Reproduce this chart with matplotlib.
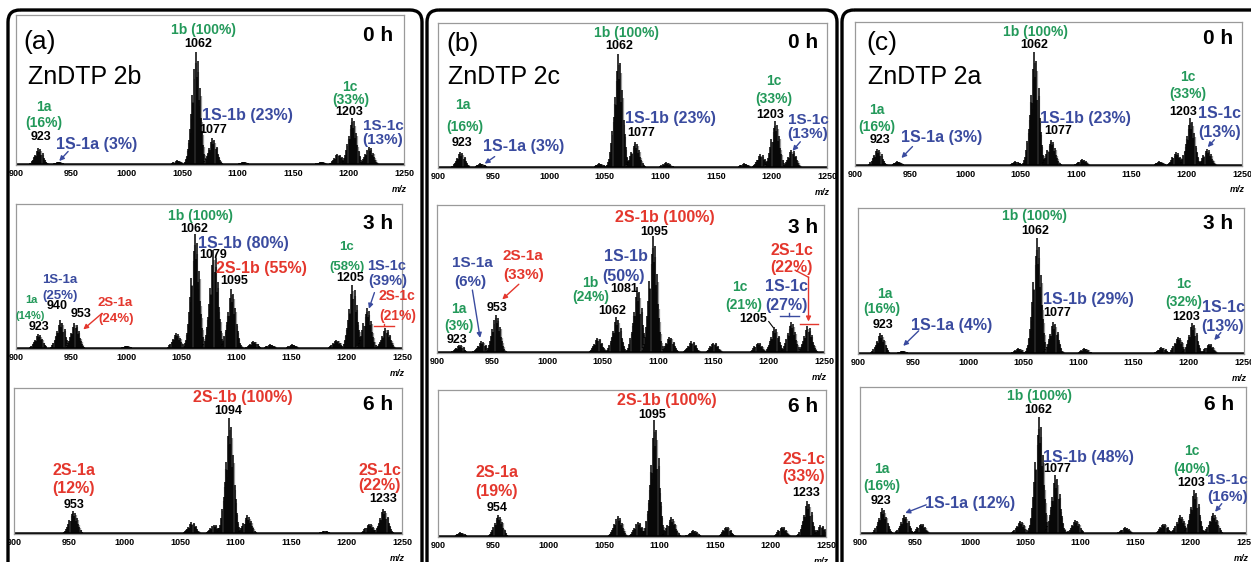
import matplotlib
matplotlib.use("Agg")
import matplotlib.pyplot as plt
from matplotlib.patches import FancyBboxPatch

plt.rcParams['font.family'] = ['Liberation Sans', 'DejaVu Sans']

# ---- data: peak clusters (m/z of cluster top, height relative to base peak) ----
a0_mz = [920, 938, 1045, 1062, 1077, 1105, 1175, 1190, 1203, 1218]
a0_int = [15, 3, 4, 100, 24, 3, 3, 10, 42, 16]
a3_mz = [920, 940, 953, 1000, 1045, 1062, 1079, 1095, 1115, 1130, 1150, 1190, 1205, 1218, 1235]
a3_int = [13, 25, 23, 3, 14, 100, 86, 52, 7, 4, 4, 8, 56, 36, 18]
a6_mz = [953, 1060, 1080, 1094, 1110, 1180, 1220, 1233]
a6_int = [20, 10, 8, 100, 16, 3, 9, 22]

b0_mz = [920, 938, 1045, 1062, 1077, 1105, 1175, 1190, 1203, 1218]
b0_int = [14, 4, 4, 100, 23, 5, 4, 12, 41, 16]
b3_mz = [920, 940, 953, 1045, 1062, 1081, 1095, 1110, 1130, 1150, 1190, 1205, 1220, 1235]
b3_int = [7, 10, 33, 13, 31, 57, 100, 14, 10, 9, 9, 22, 27, 23]
b6_mz = [920, 954, 1062, 1080, 1095, 1110, 1130, 1160, 1210, 1233, 1245]
b6_int = [4, 19, 18, 13, 100, 17, 6, 9, 9, 31, 10]

c0_mz = [920, 938, 1045, 1062, 1077, 1105, 1175, 1190, 1203, 1218]
c0_int = [15, 4, 4, 100, 23, 6, 4, 12, 42, 15]
c3_mz = [920, 940, 1045, 1062, 1077, 1105, 1175, 1190, 1203, 1218]
c3_int = [18, 3, 5, 100, 28, 5, 6, 15, 27, 9]
c6_mz = [920, 940, 955, 1045, 1062, 1077, 1095, 1140, 1175, 1190, 1203, 1220]
c6_int = [22, 16, 9, 11, 100, 51, 12, 6, 9, 16, 38, 18]

iso_off = [-10, -9, -8, -7, -6, -5, -4, -3, -2, -1, 0, 1, 2, 3, 4, 5, 6, 7, 8, 9, 10]
iso_rel = [0.03, 0.05, 0.08, 0.14, 0.22, 0.32, 0.45, 0.62, 0.55, 0.85, 1.0,
           0.78, 0.92, 0.58, 0.68, 0.42, 0.30, 0.18, 0.10, 0.06, 0.03]

xticks = [900, 950, 1000, 1050, 1100, 1150, 1200, 1250]
hours = ['0 h', '3 h', '6 h']

GREEN = '#23995a'
BLUE = '#3a4b9f'
RED = '#e4372d'
BLACK = 'k'

W, H = 1251, 562
fig = plt.figure(figsize=(W / 100, H / 100), dpi=100)

# outer rounded frames
bg = fig.add_axes([0, 0, 1, 1])
bg.set_xlim(0, W)
bg.set_ylim(H, 0)
bg.axis('off')
for x0, x1 in [(8, 422), (427, 837), (842, 1275)]:
    bg.add_patch(FancyBboxPatch((x0, 10), x1 - x0, 620,
                                boxstyle='round,pad=0,rounding_size=12',
                                fill=False, ec='k', lw=2.4, clip_on=False))

# panel boxes in pixels: left, top, right, bottom
boxes = {
    'a': [(16, 15, 404, 165), (16, 204, 402, 349), (14, 388, 402, 534)],
    'b': [(438, 23, 827, 168), (437, 205, 824, 353), (438, 390, 826, 537)],
    'c': [(855, 22, 1242, 166), (858, 208, 1244, 354), (860, 387, 1246, 534)],
}
ymax = {'a': [133, 126, 126], 'b': [127, 127, 126], 'c': [126, 126, 126]}
spectra = {
    'a': [(a0_mz, a0_int), (a3_mz, a3_int), (a6_mz, a6_int)],
    'b': [(b0_mz, b0_int), (b3_mz, b3_int), (b6_mz, b6_int)],
    'c': [(c0_mz, c0_int), (c3_mz, c3_int), (c6_mz, c6_int)],
}
hour_pos = {
    'a': [(1240, 115), (1242, 109), (1242, 112)],
    'b': [(1242, 110), (1245, 108), (1243, 112)],
    'c': [(1242, 112), (1240, 113), (1239, 111)],
}

# text labels: x, y, text, colour, size
labels = {
    ('a', 0): [
        (1069, 120, '1b (100%)', GREEN, 10), (1064, 107, '1062', BLACK, 9),
        (925, 51, '1a', GREEN, 10), (925, 37, '(16%)', GREEN, 10), (923, 25, '923', BLACK, 9),
        (973, 18, '1S-1a (3%)', BLUE, 11.5),
        (1109, 44, '1S-1b (23%)', BLUE, 11.5), (1078, 31, '1077', BLACK, 9),
        (1201, 69, '1c', GREEN, 10), (1202, 58, '(33%)', GREEN, 10), (1201, 47, '1203', BLACK, 9),
        (1231, 35, '1S-1c', BLUE, 11), (1231, 22, '(13%)', BLUE, 11),
    ],
    ('a', 1): [
        (1067, 116, '1b (100%)', GREEN, 10), (1062, 104, '1062', BLACK, 9),
        (1106, 92, '1S-1b (80%)', BLUE, 11.5), (1079, 82, '1079', BLACK, 9),
        (1123, 70, '2S-1b (55%)', RED, 11.5), (1098, 59, '1095', BLACK, 9),
        (940, 60, '1S-1a', BLUE, 9.5), (940, 46, '(25%)', BLUE, 9.5),
        (914, 43, '1a', GREEN, 8), (913, 29, '(14%)', GREEN, 8),
        (937, 37, '940', BLACK, 9), (959, 30, '953', BLACK, 9), (921, 19, '923', BLACK, 9),
        (990, 40, '2S-1a', RED, 9.5), (991, 26, '(24%)', RED, 9.5),
        (1200, 89, '1c', GREEN, 9.5), (1200, 71, '(58%)', GREEN, 9.5), (1203, 62, '1205', BLACK, 9),
        (1236, 72, '1S-1c', BLUE, 10.5), (1237, 59, '(39%)', BLUE, 10.5),
        (1245, 46, '2S-1c', RED, 10), (1246, 29, '(21%)', RED, 10),
    ],
    ('a', 2): [
        (1106, 118, '2S-1b (100%)', RED, 11.5), (1093, 106, '1094', BLACK, 9),
        (954, 55, '2S-1a', RED, 11.5), (954, 39, '(12%)', RED, 11.5), (954, 25, '953', BLACK, 9),
        (1230, 55, '2S-1c', RED, 11.5), (1230, 42, '(22%)', RED, 11.5), (1233, 30, '1233', BLACK, 9),
    ],
    ('b', 0): [
        (1070, 118, '1b (100%)', GREEN, 10), (1063, 107, '1062', BLACK, 9),
        (922, 55, '1a', GREEN, 10), (924, 36, '(16%)', GREEN, 10), (922, 22, '923', BLACK, 9),
        (977, 19, '1S-1a (3%)', BLUE, 11.5),
        (1109, 43, '1S-1b (23%)', BLUE, 11.5), (1083, 31, '1077', BLACK, 9),
        (1202, 76, '1c', GREEN, 10), (1202, 60, '(33%)', GREEN, 10), (1199, 46, '1203', BLACK, 9),
        (1233, 42, '1S-1c', BLUE, 11), (1233, 30, '(13%)', BLUE, 11),
    ],
    ('b', 1): [
        (1106, 116, '2S-1b (100%)', RED, 11.5), (1096, 104, '1095', BLACK, 9),
        (1221, 88, '2S-1c', RED, 11.5), (1221, 73, '(22%)', RED, 11.5),
        (932, 77, '1S-1a', BLUE, 11), (930, 61, '(6%)', BLUE, 11),
        (978, 83, '2S-1a', RED, 11), (978, 67, '(33%)', RED, 11), (954, 39, '953', BLACK, 9),
        (920, 38, '1a', GREEN, 10), (920, 23, '(3%)', GREEN, 10), (918, 11, '923', BLACK, 9),
        (1039, 60, '1b', GREEN, 10), (1039, 48, '(24%)', GREEN, 10), (1058, 36, '1062', BLACK, 9),
        (1071, 83, '1S-1b', BLUE, 11.5), (1069, 66, '(50%)', BLUE, 11.5), (1069, 55, '1081', BLACK, 9),
        (1174, 57, '1c', GREEN, 10), (1177, 41, '(21%)', GREEN, 10),
        (1216, 57, '1S-1c', BLUE, 11.5), (1216, 41, '(27%)', BLUE, 11.5),
        (1186, 29, '1205', BLACK, 9),
    ],
    ('b', 2): [
        (1106, 117, '2S-1b (100%)', RED, 11.5), (1093, 105, '1095', BLACK, 9),
        (953, 55, '2S-1a', RED, 11.5), (953, 39, '(19%)', RED, 11.5), (953, 25, '954', BLACK, 9),
        (1230, 66, '2S-1c', RED, 11.5), (1230, 52, '(33%)', RED, 11.5), (1232, 38, '1233', BLACK, 9),
    ],
    ('c', 0): [
        (1063, 117, '1b (100%)', GREEN, 10), (1062, 106, '1062', BLACK, 9),
        (920, 49, '1a', GREEN, 10), (920, 34, '(16%)', GREEN, 10), (923, 23, '923', BLACK, 9),
        (978, 25, '1S-1a (3%)', BLUE, 11.5),
        (1108, 42, '1S-1b (23%)', BLUE, 11.5), (1084, 31, '1077', BLACK, 9),
        (1201, 78, '1c', GREEN, 10), (1201, 63, '(33%)', GREEN, 10), (1197, 47, '1203', BLACK, 9),
        (1230, 46, '1S-1c', BLUE, 11.5), (1230, 29, '(13%)', BLUE, 11.5),
    ],
    ('c', 1): [
        (1060, 119, '1b (100%)', GREEN, 10), (1061, 106, '1062', BLACK, 9),
        (924, 52, '1a', GREEN, 10), (922, 39, '(16%)', GREEN, 10), (923, 25, '923', BLACK, 9),
        (985, 25, '1S-1a (4%)', BLUE, 11.5),
        (1109, 47, '1S-1b (29%)', BLUE, 11.5), (1081, 35, '1077', BLACK, 9),
        (1195, 60, '1c', GREEN, 10), (1195, 45, '(32%)', GREEN, 10), (1198, 32, '1203', BLACK, 9),
        (1231, 40, '1S-1c', BLUE, 11.5), (1231, 24, '(13%)', BLUE, 11.5),
    ],
    ('c', 2): [
        (1063, 118, '1b (100%)', GREEN, 10), (1062, 106, '1062', BLACK, 9),
        (920, 56, '1a', GREEN, 10), (920, 41, '(16%)', GREEN, 10), (919, 28, '923', BLACK, 9),
        (1000, 26, '1S-1a (12%)', BLUE, 11.5),
        (1107, 66, '1S-1b (48%)', BLUE, 11.5), (1079, 56, '1077', BLACK, 9),
        (1201, 71, '1c', GREEN, 10), (1201, 56, '(40%)', GREEN, 10), (1200, 44, '1203', BLACK, 9),
        (1233, 46, '1S-1c', BLUE, 11), (1233, 32, '(16%)', BLUE, 11),
    ],
}

# arrows: tail, head, colour
arrows = {
    ('a', 0): [((947, 12), (939, 3.5), BLUE)],
    ('a', 1): [((978, 31), (961, 17), RED), ((1225, 49), (1220, 35), BLUE)],
    ('b', 0): [((951, 10), (942, 3.8), BLUE), ((1226, 23), (1219, 15), BLUE)],
    ('b', 1): [((932, 54), (939, 13), BLUE), ((974, 59), (959, 46), RED)],
    ('c', 0): [((952, 17), (942, 7), BLUE), ((1225, 23), (1219, 16.5), BLUE)],
    ('c', 1): [((955, 20), (941, 7), BLUE), ((1229, 18.5), (1223, 12), BLUE)],
    ('c', 2): [((960, 25), (941, 18), BLUE), ((1228, 26), (1222, 19), BLUE)],
}

panel_tags = {'a': ('(a)', 'ZnDTP 2b'), 'b': ('(b)', 'ZnDTP 2c'), 'c': ('(c)', 'ZnDTP 2a')}
tag_pos = {'a': ((921, 109), (911, 78)), 'b': ((922, 109), (909, 80)), 'c': ((924, 108), (912, 78))}


def draw_spectrum(ax, mz, inten):
    for m, h in zip(mz, inten):
        xs = [m + o for o in iso_off]
        hs = [h * r for r in iso_rel]
        ax.vlines([x + 0.5 for x in xs], 0, [v * 0.9 for v in hs], color='0.6', lw=1.6)
        ax.vlines(xs, 0, hs, color='k', lw=1.1)
    ax.axhline(0.9, color='k', lw=1.8)


for col in ['a', 'b', 'c']:
    for i in range(3):
        l, t, r, b = boxes[col][i]
        ax = fig.add_axes([l / W, 1 - b / H, (r - l) / W, (b - t) / H])
        mz, inten = spectra[col][i]
        draw_spectrum(ax, mz, inten)
        ax.set_xlim(900, 1250)
        ax.set_ylim(0, ymax[col][i])
        ax.set_yticks([])
        ax.set_xticks(xticks)
        ax.set_xticklabels([str(v) for v in xticks], fontsize=6.5, fontweight='bold')
        ax.tick_params(axis='x', length=0, pad=3)
        for s in ax.spines.values():
            s.set_color('#9a9a9a')
            s.set_linewidth(0.9)
        ax.text(1.008, -0.135, 'm/z', transform=ax.transAxes, ha='right', va='top',
                fontsize=6.5, fontweight='bold', style='italic')

        hx, hy = hour_pos[col][i]
        ax.text(hx, hy, hours[i], ha='right', va='center', fontsize=15, fontweight='bold')

        if i == 0:
            (tx, ty), (zx, zy) = tag_pos[col]
            ax.text(tx, ty, panel_tags[col][0], ha='center', va='center', fontsize=19)
            ax.text(zx, zy, panel_tags[col][1], ha='left', va='center', fontsize=18)

        for x, y, s, c, fs in labels[(col, i)]:
            ax.text(x, y, s, color=c, fontsize=fs, fontweight='bold', ha='center', va='center')

        for tail, head, c in arrows.get((col, i), []):
            ax.annotate('', xy=head, xytext=tail,
                        arrowprops=dict(arrowstyle='-|>', color=c, lw=1.0, mutation_scale=7,
                                        shrinkA=0, shrinkB=0))

        if (col, i) == ('a', 1):
            ax.plot([1225, 1243], [20, 20], color=RED, lw=1.0)
            ax.plot([1234, 1234], [20, 22], color=RED, lw=1.0)
        if (col, i) == ('b', 1):
            ax.plot([1210, 1227], [32, 32], color=BLUE, lw=1.0)
            ax.plot([1218.5, 1218.5], [32, 34], color=BLUE, lw=1.0)
            ax.plot([1228, 1245], [25, 25], color=RED, lw=1.0)
            ax.plot([1224, 1236], [71, 65], color=RED, lw=1.0)
            ax.annotate('', xy=(1236, 27), xytext=(1236, 65),
                        arrowprops=dict(arrowstyle='-|>', color=RED, lw=1.0, mutation_scale=7,
                                        shrinkA=0, shrinkB=0))
            ax.plot([1200, 1204], [27, 22], color='k', lw=0.8)

fig.savefig('out.png', dpi=100)
